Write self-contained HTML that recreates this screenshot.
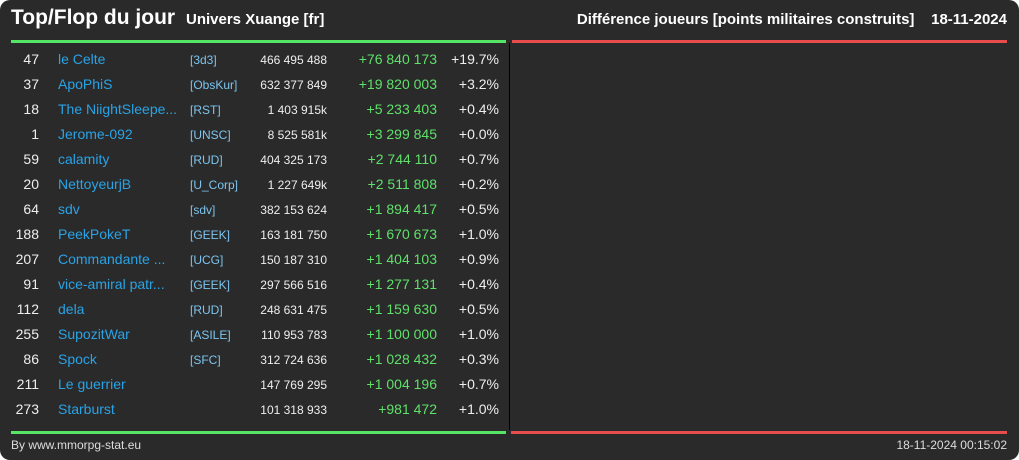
<!DOCTYPE html>
<html><head><meta charset="utf-8"><style>
html,body{margin:0;padding:0;background:#fff;}
#card{position:absolute;left:0;top:0;width:1019px;height:460px;background:#2a2a2a;border-radius:10px;overflow:hidden;font-family:"Liberation Sans",sans-serif;color:#eee;}
.a{position:absolute;white-space:nowrap;}
.r{text-align:right;}
</style></head><body>
<div id="card">
<div class="a" style="left:11px;top:6px;font-size:21px;font-weight:bold;color:#fff;">Top/Flop du jour</div>
<div class="a" style="left:186px;top:11px;font-size:15px;font-weight:bold;color:#fff;">Univers Xuange [fr]</div>
<div class="a" style="right:12px;top:11px;font-size:15px;font-weight:bold;color:#fff;">Différence joueurs [points militaires construits]&nbsp;&nbsp;&nbsp;&nbsp;18-11-2024</div>
<div class="a" style="left:11px;top:40px;width:495px;height:3px;background:#55e565;"></div>
<div class="a" style="left:512px;top:40px;width:495px;height:3px;background:#e84c4c;"></div>
<div class="a" style="left:509px;top:43px;width:1px;height:387px;background:#000;"></div>
<div class="a" style="left:11px;top:431px;width:495px;height:3px;background:#55e565;"></div>
<div class="a" style="left:511px;top:431px;width:496px;height:3px;background:#e84c4c;"></div>
<div class="a" style="left:11px;top:438px;font-size:12px;color:#ddd;">By www.mmorpg-stat.eu</div>
<div class="a" style="right:12px;top:438px;font-size:12px;color:#ddd;">18-11-2024 00:15:02</div>
<div id="rows"></div>
</div>
<script>
const ranks=["47","37","18","1","59","20","64","188","207","91","112","255","86","211","273"];
const names=["le Celte","ApoPhiS","The NiightSleepe...","Jerome-092","calamity","NettoyeurjB","sdv","PeekPokeT","Commandante ...","vice-amiral patr...","dela","SupozitWar","Spock","Le guerrier","Starburst"];
const alliances=["[3d3]","[ObsKur]","[RST]","[UNSC]","[RUD]","[U_Corp]","[sdv]","[GEEK]","[UCG]","[GEEK]","[RUD]","[ASILE]","[SFC]","",""];
const points=["466 495 488","632 377 849","1 403 915k","8 525 581k","404 325 173","1 227 649k","382 153 624","163 181 750","150 187 310","297 566 516","248 631 475","110 953 783","312 724 636","147 769 295","101 318 933"];
const diffs=["+76 840 173","+19 820 003","+5 233 403","+3 299 845","+2 744 110","+2 511 808","+1 894 417","+1 670 673","+1 404 103","+1 277 131","+1 159 630","+1 100 000","+1 028 432","+1 004 196","+981 472"];
const pcts=["+19.7%","+3.2%","+0.4%","+0.0%","+0.7%","+0.2%","+0.5%","+1.0%","+0.9%","+0.4%","+0.5%","+1.0%","+0.3%","+0.7%","+1.0%"];
const host=document.getElementById('rows');
function cell(txt,style){const d=document.createElement('div');d.className='a';d.textContent=txt;d.setAttribute('style',style);host.appendChild(d);return d;}
ranks.forEach((rk,i)=>{
  const y=51+i*25;
  let c;
  c=cell(rk,`right:${1019-39}px;top:${y}px;font-size:14px;color:#eee;`);
  
  
  c=cell(names[i],`left:58px;top:${y}px;font-size:14px;color:#29a3e6;`);
  
  
  c=cell(alliances[i],`left:190px;top:${y+2}px;font-size:12px;color:#7cc4ee;`);
  
  
  c=cell(points[i],`right:${1019-327}px;top:${y+2}px;font-size:12px;color:#eee;`);
  
  
  c=cell(diffs[i],`right:${1019-437}px;top:${y}px;font-size:14px;color:#5fe06a;`);
  
  
  c=cell(pcts[i],`right:${1019-499}px;top:${y}px;font-size:14px;color:#eee;`);
  
  
});
</script>
</body></html>
